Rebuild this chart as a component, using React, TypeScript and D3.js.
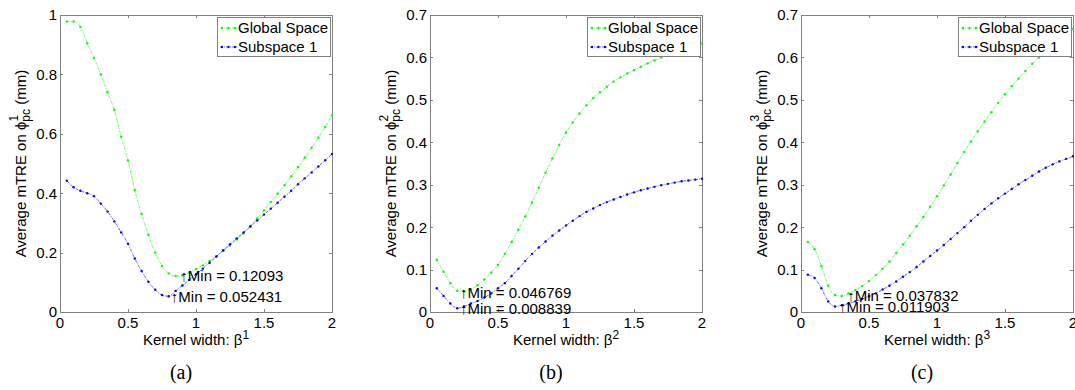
import { useRef, useEffect } from 'react';
import * as d3 from 'd3';

// kernel width samples (beta)
const betaValues = [
    0.05, 0.1, 0.15, 0.2, 0.25, 0.3, 0.35, 0.4, 0.45, 0.5,
    0.55, 0.6, 0.65, 0.7, 0.75, 0.8, 0.85, 0.9, 0.95, 1.0,
    1.05, 1.1, 1.15, 1.2, 1.25, 1.3, 1.35, 1.4, 1.45, 1.5,
    1.55, 1.6, 1.65, 1.7, 1.75, 1.8, 1.85, 1.9, 1.95, 2.0
];

const globalSpaceA = [
    0.978, 0.978, 0.96, 0.905, 0.855, 0.8, 0.74, 0.68, 0.59, 0.51,
    0.41, 0.33, 0.26, 0.2, 0.155, 0.13, 0.121, 0.123, 0.133, 0.145,
    0.157, 0.172, 0.188, 0.205, 0.224, 0.244, 0.265, 0.29, 0.315, 0.342,
    0.37, 0.398, 0.427, 0.457, 0.488, 0.52, 0.553, 0.587, 0.623, 0.663
];
const subspaceA = [
    0.442, 0.42, 0.408, 0.4, 0.39, 0.365, 0.338, 0.305, 0.268, 0.23,
    0.18, 0.138, 0.102, 0.075, 0.057, 0.053, 0.071, 0.089, 0.108, 0.127,
    0.146, 0.166, 0.187, 0.208, 0.228, 0.248, 0.268, 0.288, 0.308, 0.328,
    0.348, 0.368, 0.388, 0.408, 0.43, 0.45, 0.47, 0.49, 0.511, 0.532
];

const globalSpaceB = [
    0.123, 0.095, 0.068, 0.05, 0.049, 0.054, 0.063, 0.077, 0.093, 0.111,
    0.137, 0.165, 0.194, 0.225, 0.258, 0.293, 0.328, 0.362, 0.394, 0.423,
    0.447, 0.468, 0.487, 0.504, 0.518, 0.531, 0.543, 0.553, 0.562, 0.57,
    0.578, 0.586, 0.593, 0.6, 0.606, 0.612, 0.618, 0.623, 0.628, 0.633
];
const subspaceB = [
    0.056, 0.038, 0.02, 0.009, 0.013, 0.02, 0.026, 0.034, 0.044, 0.056,
    0.068, 0.085, 0.102, 0.12, 0.137, 0.152, 0.166, 0.18, 0.192, 0.204,
    0.215, 0.226, 0.236, 0.244, 0.252, 0.259, 0.265, 0.271, 0.277, 0.282,
    0.287, 0.291, 0.295, 0.299, 0.302, 0.305, 0.308, 0.31, 0.312, 0.314
];

const globalSpaceC = [
    0.165, 0.148, 0.108, 0.062, 0.04, 0.038, 0.044, 0.052, 0.061, 0.073,
    0.087, 0.102, 0.119, 0.139, 0.159, 0.18, 0.202, 0.224, 0.248, 0.273,
    0.298, 0.324, 0.351, 0.377, 0.402, 0.426, 0.449, 0.471, 0.493, 0.513,
    0.532, 0.55, 0.568, 0.585, 0.6, 0.615, 0.629, 0.642, 0.655, 0.667
];
const subspaceC = [
    0.088, 0.08, 0.056, 0.025, 0.013, 0.016, 0.02, 0.025, 0.031, 0.037,
    0.044, 0.053, 0.062, 0.072, 0.083, 0.094, 0.106, 0.119, 0.132, 0.145,
    0.158, 0.172, 0.186, 0.2, 0.215, 0.229, 0.243, 0.256, 0.268, 0.279,
    0.29, 0.301, 0.311, 0.321, 0.331, 0.34, 0.348, 0.355, 0.361, 0.367
];

// min annotations: value and the beta where the label is anchored
const minValueGlobal = [0.12093, 0.046769, 0.037832];
const minValueSub = [0.052431, 0.008839, 0.011903];
const minBetaGlobal = [0.885, 0.22, 0.34];
const minBetaSub = [0.815, 0.22, 0.28];

const xTicks = [0, 0.5, 1, 1.5, 2];
const xTickLabels = ['0', '0.5', '1', '1.5', '2'];
const yTicksA = [0, 0.2, 0.4, 0.6, 0.8, 1];
const yTickLabelsA = ['0', '0.2', '0.4', '0.6', '0.8', '1'];
const yTicksBC = [0, 0.1, 0.2, 0.3, 0.4, 0.5, 0.6, 0.7];
const yTickLabelsBC = ['0', '0.1', '0.2', '0.3', '0.4', '0.5', '0.6', '0.7'];

const legendLabels = ['Global Space', 'Subspace 1'];
const panelIndex = ['1', '2', '3'];
const captions = ['(a)', '(b)', '(c)'];

const panelLeft = [60, 430, 801];
const panelWidth = 272;
const plotTop = 15;
const plotBottom = 312;

const GREEN = '#00ff00';
const BLUE = '#0000ff';
const AXIS = '#808080';
const SANS = '"Liberation Sans", Arial, Helvetica, sans-serif';
const SERIF = '"Liberation Serif", "Times New Roman", serif';
const FS = '15px';

export default function App() {
    const svgRef = useRef<SVGSVGElement>(null);

    useEffect(() => {
        document.body.style.margin = '0';
        const svgEl = svgRef.current;
        if (!svgEl) return;
        const svg = d3.select(svgEl);
        svg.selectAll('*').remove();

        const panels = [
            { global: globalSpaceA, sub: subspaceA, yMax: 1, yTicks: yTicksA, yLabels: yTickLabelsA },
            { global: globalSpaceB, sub: subspaceB, yMax: 0.7, yTicks: yTicksBC, yLabels: yTickLabelsBC },
            { global: globalSpaceC, sub: subspaceC, yMax: 0.7, yTicks: yTicksBC, yLabels: yTickLabelsBC }
        ];

        panels.forEach((p, i) => {
            const left = panelLeft[i];
            const right = left + panelWidth;
            const x = d3.scaleLinear().domain([0, 2]).range([left, right]);
            const y = d3.scaleLinear().domain([0, p.yMax]).range([plotBottom, plotTop]);
            const g = svg.append('g');

            // axes box
            g.append('rect')
                .attr('x', left + 0.5).attr('y', plotTop + 0.5)
                .attr('width', panelWidth).attr('height', plotBottom - plotTop)
                .attr('fill', 'none').attr('stroke', AXIS).attr('stroke-width', 1);

            // inward ticks on all sides
            xTicks.forEach((t, k) => {
                const px = Math.round(x(t)) + 0.5;
                g.append('line').attr('x1', px).attr('x2', px).attr('y1', plotBottom).attr('y2', plotBottom - 3)
                    .attr('stroke', AXIS);
                g.append('line').attr('x1', px).attr('x2', px).attr('y1', plotTop).attr('y2', plotTop + 3)
                    .attr('stroke', AXIS);
                g.append('text')
                    .attr('x', x(t)).attr('y', plotBottom + 16)
                    .attr('text-anchor', 'middle')
                    .style('font-family', SANS).style('font-size', FS).style('fill', '#000')
                    .text(xTickLabels[k]);
            });
            p.yTicks.forEach((t, k) => {
                const py = Math.round(y(t)) + 0.5;
                g.append('line').attr('x1', left).attr('x2', left + 3).attr('y1', py).attr('y2', py)
                    .attr('stroke', AXIS);
                g.append('line').attr('x1', right).attr('x2', right - 3).attr('y1', py).attr('y2', py)
                    .attr('stroke', AXIS);
                g.append('text')
                    .attr('x', left - 3).attr('y', y(t))
                    .attr('dy', '0.36em')
                    .attr('text-anchor', 'end')
                    .style('font-family', SANS).style('font-size', FS).style('fill', '#000')
                    .text(p.yLabels[k]);
            });

            const line = d3.line<number>()
                .x((_, j) => x(betaValues[j]))
                .y(d => y(d))
                .curve(d3.curveMonotoneX);

            const clipId = `clip-${i}`;
            g.append('clipPath').attr('id', clipId)
                .append('rect').attr('x', left).attr('y', plotTop)
                .attr('width', panelWidth + 1).attr('height', plotBottom - plotTop + 1);
            const plot = g.append('g').attr('clip-path', `url(#${clipId})`);

            [{ data: p.global, color: GREEN }, { data: p.sub, color: BLUE }].forEach(s => {
                plot.append('path')
                    .attr('d', line(s.data))
                    .attr('fill', 'none')
                    .attr('stroke', s.color)
                    .attr('stroke-width', 1)
                    .attr('stroke-opacity', 0.6)
                    .attr('stroke-dasharray', '3,1,1,1');
                plot.selectAll(null)
                    .data(s.data)
                    .enter()
                    .append('circle')
                    .attr('cx', (_, j) => x(betaValues[j]))
                    .attr('cy', d => y(d))
                    .attr('r', 1.2)
                    .attr('fill', s.color);
            });

            // min annotations
            [
                { beta: minBetaGlobal[i], value: minValueGlobal[i] },
                { beta: minBetaSub[i], value: minValueSub[i] }
            ].forEach(a => {
                g.append('text')
                    .attr('x', x(a.beta)).attr('y', y(a.value))
                    .attr('dy', '0.36em')
                    .style('font-family', SANS).style('font-size', FS).style('fill', '#000')
                    .text(`\u2191Min = ${a.value}`);
            });

            // legend
            const lgW = 113;
            const lgX = right - 2 - lgW;
            const lgY = plotTop + 2;
            const lg = g.append('g');
            lg.append('rect')
                .attr('x', lgX + 0.5).attr('y', lgY + 0.5)
                .attr('width', lgW).attr('height', 39)
                .attr('fill', '#fff').attr('stroke', AXIS);
            [GREEN, BLUE].forEach((c, k) => {
                const ly = lgY + 11 + k * 19;
                lg.append('line')
                    .attr('x1', lgX + 3).attr('x2', lgX + 20).attr('y1', ly).attr('y2', ly)
                    .attr('stroke', c).attr('stroke-width', 1).attr('stroke-opacity', 0.6)
                    .attr('stroke-dasharray', '3,1,1,1');
                [lgX + 5, lgX + 11.5, lgX + 18].forEach(cx => {
                    lg.append('circle').attr('cx', cx).attr('cy', ly).attr('r', 1.2).attr('fill', c);
                });
                lg.append('text')
                    .attr('x', lgX + 21).attr('y', ly)
                    .attr('dy', '0.36em')
                    .style('font-family', SANS).style('font-size', FS).style('fill', '#000')
                    .text(legendLabels[k]);
            });

            // y label: Average mTRE on phi^n_pc (mm)
            const cy = (plotTop + plotBottom) / 2;
            const yl = g.append('text')
                .attr('transform', `translate(${left - 34.5},${cy}) rotate(-90)`)
                .attr('text-anchor', 'middle')
                .style('font-family', SANS).style('font-size', FS).style('fill', '#000');
            yl.append('tspan').text('Average mTRE on \u03d5');
            yl.append('tspan').attr('dy', 4).style('font-size', '12px').text('pc');
            yl.append('tspan').attr('dx', -12.5).attr('dy', -12).style('font-size', '12px').text(panelIndex[i]);
            yl.append('tspan').attr('dx', 6).attr('dy', 8).text(' (mm)');

            // x label
            const xl = g.append('text')
                .attr('x', (left + right) / 2).attr('y', 345)
                .attr('text-anchor', 'middle')
                .style('font-family', SANS).style('font-size', FS).style('fill', '#000');
            xl.append('tspan').text('Kernel width: \u03b2');
            xl.append('tspan').attr('dy', -6).style('font-size', '12px').text(panelIndex[i]);

            // caption
            g.append('text')
                .attr('x', (left + right) / 2 - 15).attr('y', 379)
                .attr('text-anchor', 'middle')
                .style('font-family', SERIF).style('font-size', '20px').style('fill', '#000')
                .text(captions[i]);
        });

        return () => {
            svg.selectAll('*').remove();
        };
    }, []);

    return <svg ref={svgRef} width={1075} height={390} style={{ display: 'block', background: '#fff' }} />;
}
